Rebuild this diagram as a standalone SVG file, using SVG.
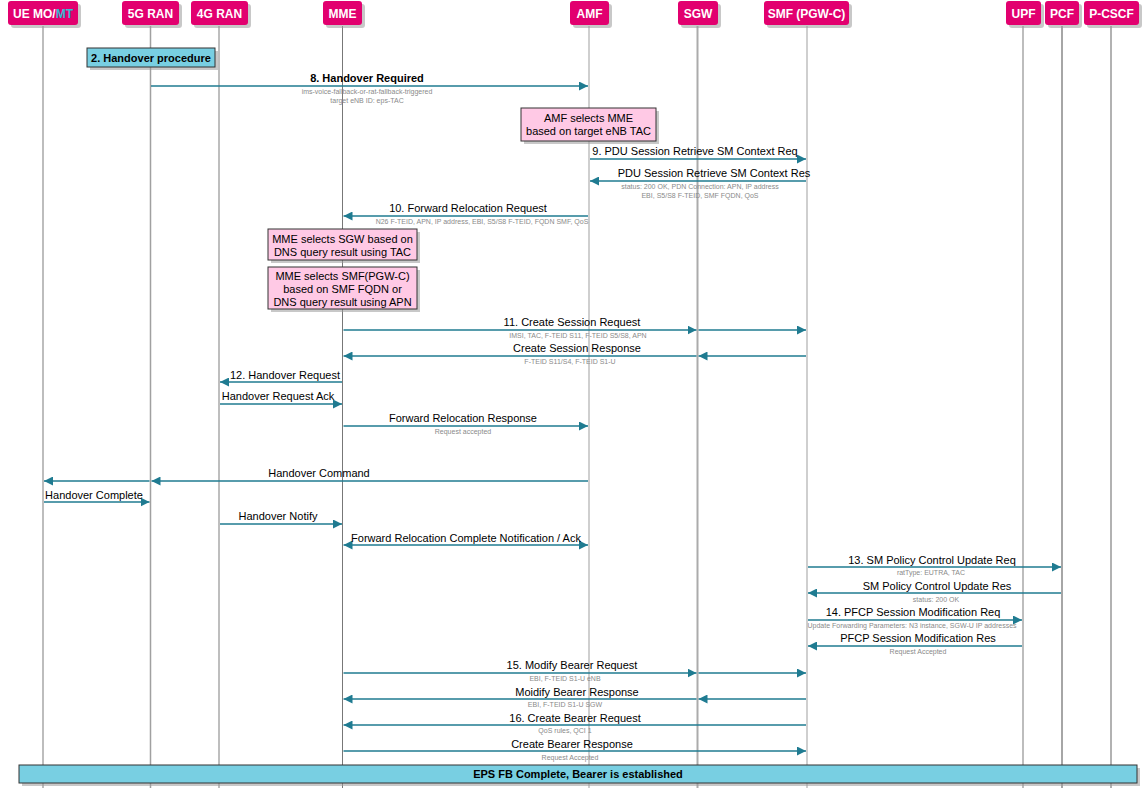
<svg xmlns="http://www.w3.org/2000/svg" width="1148" height="788" viewBox="0 0 1148 788">
<style>
text{font-family:"Liberation Sans",Arial,sans-serif;}
.hd{fill:#e2006f;}
.sh{fill:#9a9a9a;opacity:0.55;}
.ht{fill:#fff;font-size:12px;font-weight:bold;text-anchor:middle;}
.msg{stroke:#1f7b91;stroke-width:1.5;fill:none;}
.ml{font-size:11px;fill:#000;text-anchor:middle;}
.sl{font-size:7px;fill:#8a8a8a;text-anchor:middle;}
.note{fill:#ffc9e5;stroke:#333;stroke-width:1;}
.nt{font-size:11px;fill:#000;text-anchor:middle;}
.grp{fill:#78cfe2;stroke:#333;stroke-width:1;}
.gt{font-size:11px;font-weight:bold;fill:#000;text-anchor:middle;}
</style>
<defs>
<marker id="ah" viewBox="0 0 10 10" refX="10" refY="5" markerWidth="9" markerHeight="9" markerUnits="userSpaceOnUse" orient="auto-start-reverse">
<path d="M0,0 L10,5 L0,10 z" fill="#1f7b91"/>
</marker>
</defs>
<rect width="1148" height="788" fill="#fff"/>
<g id="lifelines">
<line x1="43" y1="26" x2="43" y2="788" stroke="#bdbdbd" stroke-width="2"/>
<line x1="150.5" y1="26" x2="150.5" y2="788" stroke="#a0a0a0" stroke-width="1.5"/>
<line x1="219" y1="26" x2="219" y2="788" stroke="#a8a8a8" stroke-width="1.5"/>
<line x1="342.5" y1="26" x2="342.5" y2="788" stroke="#777" stroke-width="1"/>
<line x1="589" y1="26" x2="589" y2="788" stroke="#cfcfcf" stroke-width="2"/>
<line x1="697.5" y1="26" x2="697.5" y2="788" stroke="#ababab" stroke-width="2"/>
<line x1="807" y1="26" x2="807" y2="788" stroke="#cfcfcf" stroke-width="2"/>
<line x1="1023" y1="26" x2="1023" y2="788" stroke="#bdbdbd" stroke-width="2"/>
<line x1="1062" y1="26" x2="1062" y2="788" stroke="#888" stroke-width="1.5"/>
<line x1="1111" y1="26" x2="1111" y2="788" stroke="#999" stroke-width="1.5"/>
</g>
<g id="ue">
<rect class="sh" x="11" y="4" width="70" height="24" rx="3"/>
<rect class="hd" x="8" y="1" width="70" height="24" rx="3"/>
<text class="ht" x="43" y="17.5">UE MO/<tspan fill="#36bad4">MT</tspan></text>
</g>
<g id="ran5g">
<rect class="sh" x="125" y="4" width="57" height="24" rx="3"/>
<rect class="hd" x="122" y="1" width="57" height="24" rx="3"/>
<text class="ht" x="150.5" y="17.5">5G RAN</text>
</g>
<g id="ran4g">
<rect class="sh" x="194" y="4" width="57" height="24" rx="3"/>
<rect class="hd" x="191" y="1" width="57" height="24" rx="3"/>
<text class="ht" x="219.5" y="17.5">4G RAN</text>
</g>
<g id="mme">
<rect class="sh" x="326" y="4" width="39" height="24" rx="3"/>
<rect class="hd" x="323" y="1" width="39" height="24" rx="3"/>
<text class="ht" x="342.5" y="17.5">MME</text>
</g>
<g id="amf">
<rect class="sh" x="573" y="4" width="39" height="24" rx="3"/>
<rect class="hd" x="570" y="1" width="39" height="24" rx="3"/>
<text class="ht" x="589.5" y="17.5">AMF</text>
</g>
<g id="sgw">
<rect class="sh" x="681" y="4" width="40" height="24" rx="3"/>
<rect class="hd" x="678" y="1" width="40" height="24" rx="3"/>
<text class="ht" x="698" y="17.5">SGW</text>
</g>
<g id="smf">
<rect class="sh" x="767" y="4" width="85" height="24" rx="3"/>
<rect class="hd" x="764" y="1" width="85" height="24" rx="3"/>
<text class="ht" x="806.5" y="17.5">SMF (PGW-C)</text>
</g>
<g id="upf">
<rect class="sh" x="1009" y="4" width="35" height="24" rx="3"/>
<rect class="hd" x="1006" y="1" width="35" height="24" rx="3"/>
<text class="ht" x="1023.5" y="17.5">UPF</text>
</g>
<g id="pcf">
<rect class="sh" x="1048" y="4" width="34" height="24" rx="3"/>
<rect class="hd" x="1045" y="1" width="34" height="24" rx="3"/>
<text class="ht" x="1062" y="17.5">PCF</text>
</g>
<g id="pcscf">
<rect class="sh" x="1087" y="4" width="55" height="24" rx="3"/>
<rect class="hd" x="1084" y="1" width="55" height="24" rx="3"/>
<text class="ht" x="1111.5" y="17.5">P-CSCF</text>
</g>
<g id="handover-procedure">
<rect class="sh" x="90" y="51" width="128" height="19"/>
<rect class="grp" x="87" y="48" width="128" height="19"/>
<text class="gt" x="151" y="61.5">2. Handover procedure</text>
</g>
<g id="note-amf">
<rect class="sh" x="524" y="111" width="135" height="33"/>
<rect class="note" x="521" y="108" width="135" height="33"/>
<text class="nt" x="588.5" y="122">AMF selects MME</text>
<text class="nt" x="588.5" y="135">based on target eNB TAC</text>
</g>
<g id="note-sgw">
<rect class="sh" x="271" y="232" width="149" height="31"/>
<rect class="note" x="268" y="229" width="149" height="31"/>
<text class="nt" x="342.5" y="243">MME selects SGW based on</text>
<text class="nt" x="342.5" y="256">DNS query result using TAC</text>
</g>
<g id="note-smf">
<rect class="sh" x="271" y="270" width="149" height="42"/>
<rect class="note" x="268" y="267" width="149" height="42"/>
<text class="nt" x="342.5" y="280">MME selects SMF(PGW-C)</text>
<text class="nt" x="342.5" y="293">based on SMF FQDN or</text>
<text class="nt" x="342.5" y="306">DNS query result using APN</text>
</g>
<g id="connectors">
<line class="msg" x1="151" y1="86" x2="588" y2="86" marker-end="url(#ah)"/>
<text class="ml" x="367" y="82" font-weight="bold">8. Handover Required</text>
<text class="sl" x="367" y="94">ims-voice-fallback-or-rat-fallback-triggered</text>
<text class="sl" x="367" y="103">target eNB ID: eps-TAC</text>

<line class="msg" x1="590" y1="159" x2="806" y2="159" marker-end="url(#ah)"/>
<text class="ml" x="695" y="155">9. PDU Session Retrieve SM Context Req</text>

<line class="msg" x1="806" y1="181" x2="590" y2="181" marker-end="url(#ah)"/>
<text class="ml" x="714" y="177">PDU Session Retrieve SM Context Res</text>
<text class="sl" x="700" y="189">status: 200 OK, PDN Connection: APN, IP address</text>
<text class="sl" x="700" y="198">EBI, S5/S8 F-TEID, SMF FQDN, QoS</text>

<line class="msg" x1="588" y1="216" x2="343.5" y2="216" marker-end="url(#ah)"/>
<text class="ml" x="468" y="212">10. Forward Relocation Request</text>
<text class="sl" x="482" y="224">N26 F-TEID, APN, IP address, EBI, S5/S8 F-TEID, FQDN SMF, QoS</text>

<line class="msg" x1="343.5" y1="330" x2="696.5" y2="330" marker-end="url(#ah)"/>
<line class="msg" x1="698.5" y1="330" x2="806" y2="330" marker-end="url(#ah)"/>
<text class="ml" x="572" y="326">11. Create Session Request</text>
<text class="sl" x="578" y="338">IMSI, TAC, F-TEID S11, F-TEID S5/S8, APN</text>

<line class="msg" x1="806" y1="356" x2="698.5" y2="356" marker-end="url(#ah)"/>
<line class="msg" x1="696.5" y1="356" x2="343.5" y2="356" marker-end="url(#ah)"/>
<text class="ml" x="577" y="352">Create Session Response</text>
<text class="sl" x="570" y="364">F-TEID S11/S4, F-TEID S1-U</text>

<line class="msg" x1="342" y1="382" x2="220" y2="382" marker-end="url(#ah)"/>
<text class="ml" x="285" y="379">12. Handover Request</text>

<line class="msg" x1="220" y1="404" x2="342" y2="404" marker-end="url(#ah)"/>
<text class="ml" x="278" y="400">Handover Request Ack</text>

<line class="msg" x1="343.5" y1="426" x2="588" y2="426" marker-end="url(#ah)"/>
<text class="ml" x="463" y="422">Forward Relocation Response</text>
<text class="sl" x="463" y="434">Request accepted</text>

<line class="msg" x1="588" y1="481" x2="151.5" y2="481" marker-end="url(#ah)"/>
<line class="msg" x1="149.5" y1="481" x2="44" y2="481" marker-end="url(#ah)"/>
<text class="ml" x="319" y="477">Handover Command</text>

<line class="msg" x1="44" y1="502" x2="149.5" y2="502" marker-end="url(#ah)"/>
<text class="ml" x="94" y="499">Handover Complete</text>

<line class="msg" x1="220" y1="524" x2="342" y2="524" marker-end="url(#ah)"/>
<text class="ml" x="278" y="520">Handover Notify</text>

<line class="msg" x1="343.5" y1="545" x2="588" y2="545" marker-start="url(#ah)" marker-end="url(#ah)"/>
<text class="ml" x="466" y="542">Forward Relocation Complete Notification / Ack</text>

<line class="msg" x1="808" y1="567" x2="1061" y2="567" marker-end="url(#ah)"/>
<text class="ml" x="932" y="564">13. SM Policy Control Update Req</text>
<text class="sl" x="931" y="575">ratType: EUTRA, TAC</text>

<line class="msg" x1="1061" y1="593" x2="808" y2="593" marker-end="url(#ah)"/>
<text class="ml" x="937" y="590">SM Policy Control Update Res</text>
<text class="sl" x="936" y="602">status: 200 OK</text>

<line class="msg" x1="808" y1="620" x2="1022" y2="620" marker-end="url(#ah)"/>
<text class="ml" x="913" y="616">14. PFCP Session Modification Req</text>
<text class="sl" x="912" y="628">Update Forwarding Parameters: N3 instance, SGW-U IP addresses</text>

<line class="msg" x1="1022" y1="646" x2="808" y2="646" marker-end="url(#ah)"/>
<text class="ml" x="918" y="642">PFCP Session Modification Res</text>
<text class="sl" x="918" y="654">Request Accepted</text>

<line class="msg" x1="343.5" y1="673" x2="696.5" y2="673" marker-end="url(#ah)"/>
<line class="msg" x1="698.5" y1="673" x2="806" y2="673" marker-end="url(#ah)"/>
<text class="ml" x="572" y="669">15. Modify Bearer Request</text>
<text class="sl" x="565" y="681">EBI, F-TEID S1-U eNB</text>

<line class="msg" x1="806" y1="699" x2="698.5" y2="699" marker-end="url(#ah)"/>
<line class="msg" x1="696.5" y1="699" x2="343.5" y2="699" marker-end="url(#ah)"/>
<text class="ml" x="577" y="696">Moidify Bearer Response</text>
<text class="sl" x="565" y="707">EBI, F-TEID S1-U SGW</text>

<line class="msg" x1="806" y1="725" x2="343.5" y2="725" marker-end="url(#ah)"/>
<text class="ml" x="575" y="722">16. Create Bearer Request</text>
<text class="sl" x="565" y="733">QoS rules, QCI 1</text>

<line class="msg" x1="343.5" y1="751" x2="806" y2="751" marker-end="url(#ah)"/>
<text class="ml" x="572" y="748">Create Bearer Response</text>
<text class="sl" x="570" y="760">Request Accepted</text>
</g>
<g id="eps-fb-complete">
<rect class="sh" x="22" y="768" width="1118" height="18"/>
<rect class="grp" x="19" y="765" width="1118" height="18"/>
<text class="gt" x="578" y="778">EPS FB Complete, Bearer is established</text>
</g>
</svg>
